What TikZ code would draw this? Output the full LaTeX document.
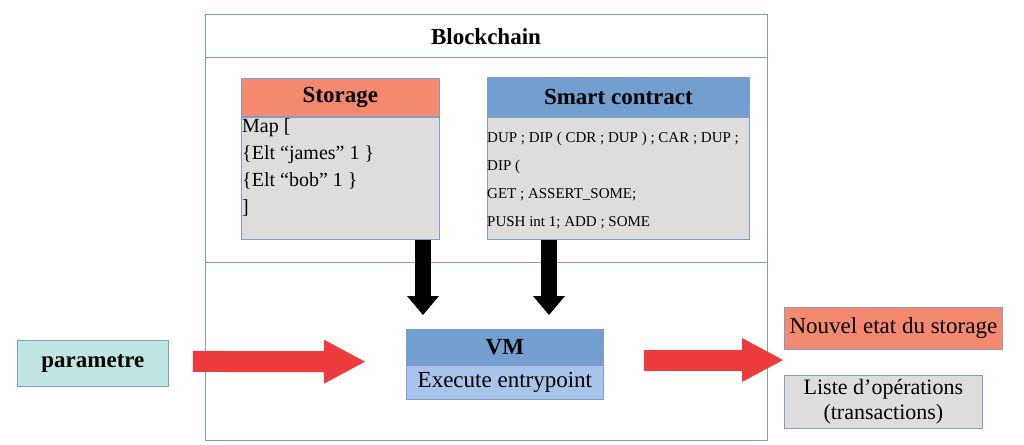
\documentclass[tikz,border=0pt]{standalone}
\usepackage{fontspec}
\setmainfont{Liberation Serif}
\usetikzlibrary{arrows.meta, positioning}

\definecolor{salmon}{HTML}{F4896F}
\definecolor{skyblue}{HTML}{729FCF}
\definecolor{paleblue}{HTML}{A9C4EA}
\definecolor{boxgray}{HTML}{DDDDDD}
\definecolor{paramteal}{HTML}{BFE6E3}
\definecolor{edge}{HTML}{7F9CCB}
\definecolor{arrowred}{HTML}{EE3B3B}

\begin{document}
\begin{tikzpicture}[x=1pt,y=-1pt,
            frame/.style={draw=edge,line width=0.8pt},
            header/.style={frame,inner sep=0pt,anchor=north west,font=\fontsize{23}{27}\selectfont\bfseries},
            body/.style={frame,fill=boxgray,inner sep=0pt,anchor=north west},
            plain/.style={frame,inner sep=0pt,anchor=north west,align=center,font=\fontsize{23}{25}\selectfont},
            listing/.style={inner xsep=1pt,inner ysep=0pt,anchor=north west,align=left},
            blockarrow/.style={line width=16pt,-{Triangle[length=19pt,width=32pt,line width=0pt]}},
            redarrow/.style={draw=arrowred,line width=21pt,-{Triangle[length=41pt,width=44pt,line width=0pt]}}
        ]
            \useasboundingbox (0,0) rectangle (1024,444);

            % Blockchain frame
            \node[frame,minimum width=562pt,minimum height=426pt,anchor=north west] (chain) at (205,14) {};
            \node[font=\fontsize{23}{27}\selectfont\bfseries] (chaintitle) at (486,37) {Blockchain};
            \draw[frame] ([yshift=-43pt]chain.north west) -- ([yshift=-43pt]chain.north east);
            \draw[frame] ([yshift=-248pt]chain.north west) -- ([yshift=-248pt]chain.north east);

            % Storage
            \node[header,fill=salmon,minimum width=198pt,minimum height=38pt] (stohead) at (241,78) {Storage};
            \node[body,minimum width=198pt,minimum height=122pt] (stobody) at (stohead.south west) {};
            \node[listing,font=\fontsize{20}{27}\selectfont,yshift=-2pt] (stotext) at (stobody.north west)
                {Map [\\\{Elt “james” 1 \}\\\{Elt “bob” 1 \}\\]};

            % Smart contract
            \node[header,fill=skyblue,minimum width=262pt,minimum height=39pt] (scthead) at (487,77) {Smart contract};
            \node[body,minimum width=262pt,minimum height=122pt] (sctbody) at (scthead.south west) {};
            \node[listing,font=\fontsize{15}{27.7}\selectfont,xshift=-1pt,yshift=-15.5pt] (scttext) at (sctbody.north west)
                {DUP ; DIP ( CDR ; DUP ) ; CAR ; DUP ;\\DIP (\\GET ; ASSERT\_SOME;\\PUSH int 1; ADD ; SOME};

            % VM
            \node[header,fill=skyblue,minimum width=197pt,minimum height=35pt] (vmhead) at (406,329) {VM};
            \node[plain,fill=paleblue,minimum width=197pt,minimum height=34pt] (vmbody) at (vmhead.south west) {Execute entrypoint};

            % Input and outputs
            \node[header,fill=paramteal,minimum width=151pt,minimum height=46pt] (param) at (17,340) {parametre};
            \node[plain,fill=salmon,minimum width=218pt,minimum height=42pt] (newstate) at (784,307) {Nouvel etat du storage};
            \node[plain,fill=boxgray,minimum width=198pt,minimum height=53pt,font=\fontsize{22}{25}\selectfont] (ops) at (784,375) {Liste d’opérations\\(transactions)};

            % Connections
            \coordinate (stodrop) at (423,315);
            \coordinate (sctdrop) at (549,315);
            \coordinate (outtip) at (783,360);
            \draw[blockarrow] (stobody.south -| stodrop) -- (stodrop);
            \draw[blockarrow] (sctbody.south -| sctdrop) -- (sctdrop);
            \draw[redarrow,shorten <=24pt,shorten >=41pt] ([yshift=2pt]param.east) -- ([yshift=3pt]vmhead.south west);
            \draw[redarrow,shorten <=40pt] (vmhead.south east |- outtip) -- (outtip);
        \end{tikzpicture}
\end{document}
